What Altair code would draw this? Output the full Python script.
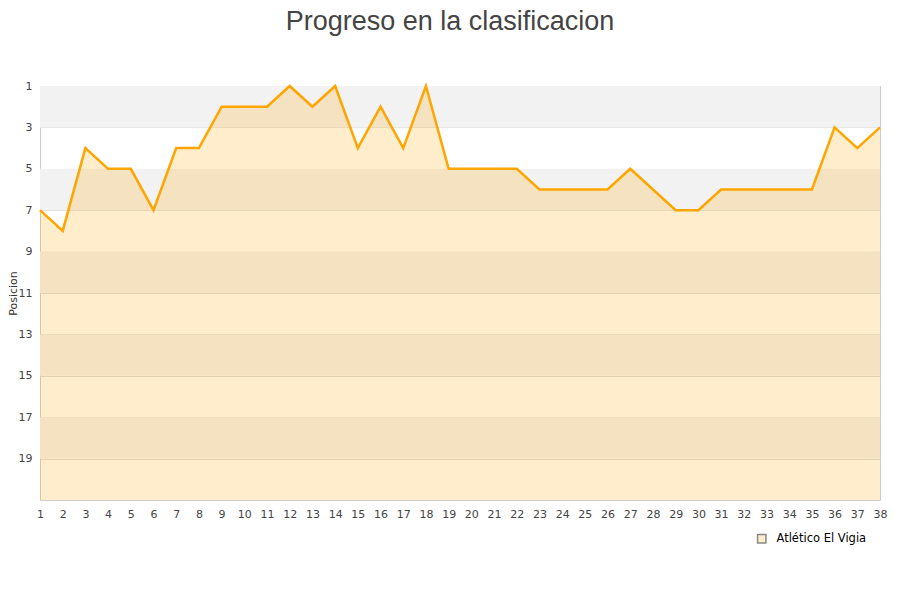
import altair as alt
import pandas as pd

jornadas = list(range(1, 39))
posiciones = [7, 8, 4, 5, 5, 7, 4, 4, 2, 2, 2, 1, 2, 1, 4, 2, 4, 1, 5, 5,
              5, 5, 6, 6, 6, 6, 5, 6, 7, 7, 6, 6, 6, 6, 6, 3, 4, 3]
equipo = "Atlético El Vigia"
band_start = [1, 5, 9, 13, 17]
band_end = [3, 7, 11, 15, 19]
y_ticks = [1, 3, 5, 7, 9, 11, 13, 15, 17, 19]

df = pd.DataFrame({"jornada": jornadas, "pos": posiciones, "equipo": equipo})
bands = pd.DataFrame({"s": band_start, "e": band_end})

yscale = alt.Scale(domain=[1, 21], reverse=True, nice=False, zero=False)
xscale = alt.Scale(domain=[1, 38], nice=False, zero=False)

xaxis = alt.Axis(values=jornadas, title=None, grid=False, ticks=False, domain=False,
                 labelFontSize=11, labelColor="#444444", labelFont="DejaVu Sans",
                 labelPadding=8, labelFlush=False, labelOverlap=False, labelBound=False)
yaxis = alt.Axis(values=y_ticks, title="Posicion", grid=True, gridColor="#dddddd",
                 ticks=False, domain=False, labelFontSize=11, labelColor="#444444",
                 labelFont="DejaVu Sans", labelPadding=8, titleFont="DejaVu Sans",
                 titleFontSize=11, titleFontWeight="normal", titleColor="#333333",
                 titlePadding=0)

band_layer = alt.Chart(bands).mark_rect(color="#f2f2f2").encode(
    y=alt.Y("s:Q", scale=yscale, axis=yaxis),
    y2="e:Q",
    x=alt.value(0),
    x2=alt.value(840),
)

area = alt.Chart(df).mark_area(opacity=0.2, interpolate="linear", color="#ffa500").encode(
    x=alt.X("jornada:Q", scale=xscale, axis=xaxis),
    y=alt.Y("pos:Q", scale=yscale, axis=yaxis),
    y2=alt.datum(21),
)

legend_layer = alt.Chart(df).mark_point(
    filled=True, fill="#ffedcc", stroke="#888888", strokeWidth=1, opacity=1, size=0
).encode(
    x=alt.X("jornada:Q", scale=xscale, axis=xaxis),
    y=alt.Y("pos:Q", scale=yscale, axis=yaxis),
    shape=alt.Shape("equipo:N", scale=alt.Scale(domain=[equipo], range=["square"]),
                    legend=alt.Legend(title=None, orient="none", legendX=716, legendY=447,
                                      symbolSize=70,
                                      labelFont="DejaVu Sans", labelFontSize=11.5,
                                      labelColor="#000000", labelOffset=9)),
)

line = alt.Chart(df).mark_line(color="#ffa500", strokeWidth=2.5).encode(
    x=alt.X("jornada:Q", scale=xscale, axis=xaxis),
    y=alt.Y("pos:Q", scale=yscale, axis=yaxis),
)

chart = alt.layer(band_layer, area, line, legend_layer).properties(
    width=840,
    height=414,
    autosize=alt.AutoSizeParams(type="none"),
    padding={"left": 32, "top": 78, "right": 12, "bottom": 80},
    title=alt.TitleParams("Progreso en la clasificacion", font="Liberation Sans", fontSize=27,
                          fontWeight="normal", color="#444444", anchor="middle", offset=44,
                          dx=-10),
).configure_view(stroke="#cccccc", strokeWidth=1).configure_axisX(labelOverlap=False)

chart.save("out.html", embed_options={"renderer": "svg", "actions": False})
